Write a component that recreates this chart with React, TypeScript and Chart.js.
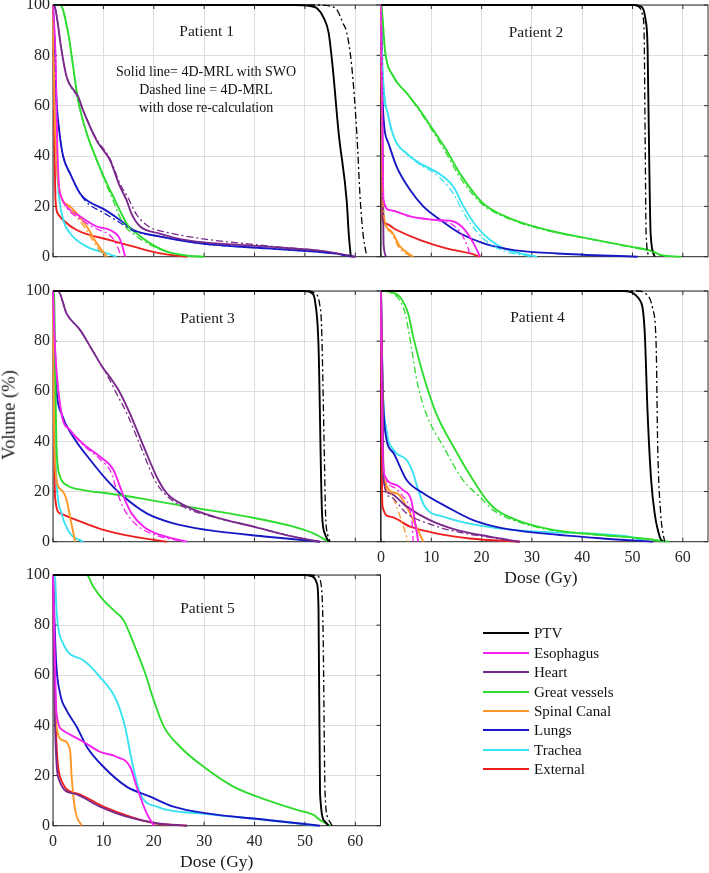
import React, { useEffect, useRef } from 'react';
import { Chart, registerables } from 'chart.js';

Chart.register(...registerables);

type Pt = [number, number];

// ---------- categories / styling keys ----------
const STRUCTURES = ['PTV', 'Esophagus', 'Heart', 'Great vessels', 'Spinal Canal', 'Lungs', 'Trachea', 'External'];
const COLORS = ['#000000', '#f522f0', '#7a2a8c', '#2edc2e', '#ff9626', '#1818c4', '#38e2f2', '#ee1e1e'];

// ---------- axes ----------
const DOSE_MIN = 0;
const DOSE_MAX = 65;
const DOSE_STEP = 10;
const VOL_MIN = 0;
const VOL_MAX = 100;
const VOL_STEP = 20;

// ---------- Patient 1 (dose Gy, volume %) ----------
const P1_PTV: Pt[] = [[0, 100], [48, 100], [51, 99.6], [52.4, 98.7], [53.7, 95], [54.7, 89], [55.5, 75.5], [56.7, 49], [58.3, 22], [58.7, 9], [59.1, 0]];
const P1_ESO: Pt[] = [[0, 100], [0.5, 80], [0.9, 40], [1.2, 28], [1.6, 24], [2.7, 20], [5.4, 16], [8.7, 12], [11.3, 10.6], [13, 8], [13.8, 4], [14.3, 0]];
const P1_HEART: Pt[] = [[0, 100], [0.4, 99], [1.7, 82], [2.7, 71.5], [5, 63.6], [6, 58], [8.7, 46], [11.3, 38.4], [13.3, 27.8], [14.6, 22.5], [15.6, 17], [17.3, 12], [21, 9.3], [26.5, 6.6], [42.5, 4], [54.4, 2], [59, 0.3], [60, 0]];
const P1_GV: Pt[] = [[0, 100], [1.4, 100], [3, 89], [4, 75.5], [5, 62], [6.7, 49], [8.7, 38.4], [10.7, 29], [12.3, 22.5], [13.6, 17], [15, 12], [16.6, 9.3], [19.3, 5.3], [22.6, 2], [27.2, 0.3], [30, 0]];
const P1_SC: Pt[] = [[0, 100], [0.3, 60], [0.8, 35], [1.4, 25], [3.4, 20], [6.7, 12], [8.7, 5.3], [10.7, 0]];
const P1_LUNG: Pt[] = [[0, 100], [0.7, 62], [1.3, 49], [2, 40], [3.4, 33], [5.4, 25], [7, 22], [10, 19], [13.3, 14.6], [16, 10.6], [21.3, 8], [29.2, 5.3], [42.5, 3.3], [55.7, 1.3], [59.7, 0]];
const P1_TRA: Pt[] = [[0, 100], [0.3, 70], [0.7, 40], [1, 28], [2, 15], [3.4, 9.3], [6.7, 4], [10.7, 1.3], [12.6, 0]];
const P1_EXT: Pt[] = [[0, 100], [0.2, 60], [0.5, 22.5], [1, 17], [2, 14.6], [4.7, 10.6], [11.3, 6.6], [16, 4], [21.3, 1.3], [26.6, 0]];
const P1_PTV_D: Pt[] = [[0, 100], [53, 100], [55, 99.5], [56.4, 98], [57.5, 93], [58.3, 89], [59.3, 75.5], [60.3, 49], [61, 22], [61.6, 8], [62.3, 0]];
const P1_ESO_D: Pt[] = [[0, 100], [0.5, 80], [0.9, 40], [1.2, 28], [1.6, 24], [2.7, 19.5], [5.4, 15], [8.7, 11], [10.5, 9.5], [12, 7], [13, 3], [13.5, 0]];
const P1_HEART_D: Pt[] = [[0, 100], [0.4, 99], [1.7, 82], [2.7, 71.5], [5, 63], [6, 58], [8.7, 46.5], [11.3, 39], [13.3, 29], [15, 23], [16.5, 17], [19, 12], [23, 9.5], [29, 7.3], [42.5, 4.3], [54.4, 2], [59, 0.3], [60, 0]];
const P1_GV_D: Pt[] = [[0, 100], [1.4, 100], [3, 89], [4, 75.5], [5, 62], [6.7, 49], [8.7, 38], [10.5, 29], [12, 22], [13, 17], [14.3, 12], [16, 9], [19, 5], [22.6, 2], [27.2, 0.3], [30, 0]];
const P1_SC_D: Pt[] = [[0, 100], [0.3, 60], [0.8, 35], [1.4, 25], [3.2, 19.5], [6.5, 11], [8.5, 4.5], [10.3, 0]];
const P1_LUNG_D: Pt[] = [[0, 100], [0.7, 62], [1.3, 49], [2, 40], [3.4, 33], [5.4, 25], [7, 21], [10, 17.5], [13.3, 13.5], [16, 10.3], [21.3, 8], [29.2, 5.3], [42.5, 3.3], [55.7, 1.3], [59.7, 0]];

// ---------- Patient 2 ----------
const P2_PTV: Pt[] = [[0, 100], [50, 100], [51.5, 99.5], [52.6, 94], [53, 82], [53.3, 40], [53.6, 9], [54.4, 0]];
const P2_ESO: Pt[] = [[0, 100], [0.2, 60], [0.5, 22.5], [1.8, 18.5], [5.8, 16], [11, 14.6], [14.4, 14], [16.7, 10.6], [18.4, 5.3], [19.7, 0]];
const P2_HEART: Pt[] = [[0, 100], [0.3, 50], [0.5, 5], [1.1, 0]];
const P2_GV: Pt[] = [[0, 100], [0.1, 99.5], [0.8, 82], [2.5, 71.5], [5.1, 65], [7.8, 58], [10.4, 50.3], [13, 42.4], [15.7, 33], [19, 24], [21, 20], [26.4, 14.6], [33, 10.6], [41, 7.3], [49.6, 4], [53.6, 2.4], [55.6, 0.7], [59.6, 0]];
const P2_SC: Pt[] = [[0, 100], [0.2, 50], [0.5, 17], [1.8, 10.6], [3.8, 4], [6.4, 0]];
const P2_LUNG: Pt[] = [[0, 100], [0.3, 62], [1.5, 45], [3.1, 35.8], [5.8, 26.5], [8.4, 20], [11.8, 14.6], [15.7, 9.3], [20.4, 5.3], [26.4, 2.6], [35, 1.3], [51, 0]];
const P2_TRA: Pt[] = [[0, 100], [0.3, 75.5], [1.5, 55.6], [2.8, 46.4], [5.1, 41], [7.8, 37], [10.4, 34.4], [12.4, 31.8], [14.4, 27.8], [16.4, 20], [19, 12], [21.7, 6.6], [24.4, 3.3], [27.7, 1.3], [31, 0]];
const P2_EXT: Pt[] = [[0, 100], [0.2, 50], [0.3, 15], [0.8, 13.2], [3.1, 10.6], [7.8, 6.6], [13, 3.3], [17.7, 1.3], [19.7, 0]];
const P2_PTV_D: Pt[] = [[0, 100], [50, 100], [51.4, 99], [52, 96], [52.3, 89], [52.5, 49], [52.7, 9], [53.3, 0]];
const P2_ESO_D: Pt[] = [[0, 100], [0.2, 60], [0.5, 22.5], [1.8, 18.5], [5.8, 16], [11, 14.4], [14, 13], [16, 9], [17.2, 4], [17.8, 0]];
const P2_GV_D: Pt[] = [[0, 100], [0.1, 99.5], [0.8, 82], [2.5, 71.5], [5.1, 65], [7.8, 57.5], [10.4, 49.5], [13, 41], [15.7, 31.5], [19, 23], [21, 19.5], [26.4, 14.3], [33, 10.4], [41, 7.2], [49.6, 3.8], [53.6, 2.2], [55.6, 0.5], [59, 0]];
const P2_SC_D: Pt[] = [[0, 100], [0.2, 50], [0.5, 17], [1.8, 10], [3.6, 3.5], [6, 0]];
const P2_TRA_D: Pt[] = [[0, 100], [0.3, 75.5], [1.5, 55.6], [2.8, 46.4], [5.1, 41], [7.8, 36.5], [10.4, 33.5], [12.4, 30], [14.4, 25], [16.4, 17.5], [19, 10], [21.7, 5], [24.4, 2.3], [27.7, 0.8], [30, 0]];

// ---------- Patient 3 ----------
const P3_PTV: Pt[] = [[0, 100], [50, 100], [51.5, 99], [52, 96], [52.7, 78], [53.4, 11], [54, 3], [54.7, 0]];
const P3_ESO: Pt[] = [[0, 100], [0.4, 77.8], [1.7, 51], [3.4, 44.5], [6, 39], [9.3, 34], [12, 28.6], [13.3, 22], [14.3, 16.6], [15.6, 11.3], [18, 6], [21.3, 2.7], [26.6, 0]];
const P3_HEART: Pt[] = [[0, 100], [1, 100], [2.7, 91], [5.4, 84.4], [7.4, 77.8], [9.7, 70], [11.7, 64.5], [13, 60.5], [15.3, 51], [18, 37.9], [20.9, 24.6], [22.6, 19.3], [26.6, 14], [31.9, 10], [39.8, 6], [47.7, 2], [53, 0]];
const P3_GV: Pt[] = [[0, 100], [0.2, 99], [0.7, 37.9], [1.4, 26], [2.7, 22.6], [6, 20.6], [10.7, 19.3], [17.3, 17.3], [26.6, 14], [38.5, 10], [47.7, 6], [51.7, 3.3], [54.7, 0]];
const P3_SC: Pt[] = [[0, 100], [0.2, 50], [0.7, 24.6], [1.7, 20.6], [2.7, 16.6], [3.5, 8.6], [4.4, 0]];
const P3_LUNG: Pt[] = [[0, 100], [0.3, 77.8], [0.7, 60.5], [1.7, 51], [4, 41.9], [7.4, 32.6], [10.7, 24.6], [14, 18], [18.6, 11.3], [23.9, 7.3], [30.5, 4.7], [42.5, 2], [53, 0]];
const P3_TRA: Pt[] = [[0, 100], [0.2, 60], [0.7, 24.6], [1.7, 11.3], [3.4, 3.3], [6, 0]];
const P3_EXT: Pt[] = [[0, 100], [0.2, 50], [0.4, 18], [1.4, 11.3], [4.7, 8.6], [10, 4.7], [16, 2], [22.6, 0]];
const P3_PTV_D: Pt[] = [[0, 100], [50.5, 100], [52, 99], [52.9, 95], [53.3, 86], [53.8, 40], [54.1, 11], [54.5, 3], [55, 0]];
const P3_ESO_D: Pt[] = [[0, 100], [0.4, 77.8], [1.7, 51], [3.4, 44.5], [6, 38.5], [9.3, 33], [11.7, 27], [12.4, 22], [13.3, 16.6], [14.6, 11.3], [17, 6], [20.5, 2.5], [26, 0]];
const P3_HEART_D: Pt[] = [[0, 100], [1, 100], [2.7, 91], [5.4, 84.4], [7.4, 77.8], [9.7, 70], [11.4, 64], [12.5, 59.5], [14.7, 51], [17.4, 38], [20.2, 24.6], [22.2, 19], [26.2, 13.6], [31.9, 9.8], [39.8, 6], [47.7, 2], [53, 0]];

// ---------- Patient 4 ----------
const P4_PTV: Pt[] = [[0, 100], [48, 100], [51.4, 96.5], [52.4, 84.4], [53, 51], [53.7, 24.6], [54.4, 11.3], [55.4, 2], [56, 0]];
const P4_ESO: Pt[] = [[0, 100], [0.3, 38], [0.8, 26], [3.1, 22.6], [4.4, 20.6], [6, 16.6], [6.7, 8.6], [7.4, 0]];
const P4_HEART: Pt[] = [[0, 100], [0.3, 60], [0.5, 24.6], [1.8, 19.3], [5.1, 14], [9.7, 8.6], [15, 4.7], [21.6, 2], [27.6, 0]];
const P4_GV: Pt[] = [[0, 100], [1.8, 99.7], [3.8, 97.5], [5.4, 91], [6.4, 81.8], [8.7, 64.5], [11, 51], [14.4, 37.9], [18.3, 24.6], [21, 16.6], [23, 12.6], [27, 8.6], [34.2, 4.7], [44, 2.7], [52, 1.3], [57.3, 0]];
const P4_SC: Pt[] = [[0, 100], [0.3, 60], [0.5, 26], [3.1, 19.3], [5.1, 14], [6.4, 8.6], [8.4, 0]];
const P4_LUNG: Pt[] = [[0, 100], [0.3, 64.5], [0.8, 44.5], [2.5, 35.3], [5.1, 24.6], [8.4, 19.3], [13, 14], [18.3, 8.6], [24.3, 5.3], [32.2, 3.3], [44, 1.3], [54, 0]];
const P4_TRA: Pt[] = [[0, 100], [0.3, 64.5], [1.1, 44.5], [2.5, 36.6], [5.1, 32.6], [6.4, 27.3], [7.4, 20.6], [8.7, 14], [12.4, 10], [21, 6], [31, 4], [49.4, 2], [52.7, 0]];
const P4_EXT: Pt[] = [[0, 100], [0.1, 50], [0.3, 14], [1.8, 10], [5.8, 6], [11, 3.3], [17.7, 1.3], [27.6, 0]];
const P4_PTV_D: Pt[] = [[0, 100], [51, 100], [52.6, 99], [54, 93], [54.7, 78], [55, 38], [55.6, 11], [56, 4], [56.4, 0]];
const P4_ESO_D: Pt[] = [[0, 100], [0.3, 38], [0.8, 26], [3.1, 21], [4.4, 18], [5.6, 14], [6.2, 7], [6.4, 0]];
const P4_HEART_D: Pt[] = [[0, 100], [0.3, 60], [0.5, 24.6], [1.8, 18], [5.1, 11.3], [9.7, 7], [15, 4], [21.6, 1.7], [27, 0]];
const P4_GV_D: Pt[] = [[0, 100], [1.8, 99.5], [3.8, 96], [4.8, 91], [6, 78], [7.1, 64.5], [9, 51], [12.4, 37.9], [16.3, 24.6], [19.6, 18], [22.3, 12.6], [26.3, 8.6], [33.5, 4.7], [44, 2.5], [52, 1.2], [56, 0]];
const P4_SC_D: Pt[] = [[0, 100], [0.3, 60], [0.5, 26], [2, 19], [3.1, 14], [4.3, 7], [5.4, 0]];

// ---------- Patient 5 ----------
const P5_PTV: Pt[] = [[0, 100], [50, 100], [51.4, 99.5], [52.4, 96.5], [52.7, 86], [53, 12.9], [54, 1.6], [54.7, 0]];
const P5_ESO: Pt[] = [[0, 100], [0.3, 73], [0.7, 44.8], [2, 38], [6, 33.5], [9.3, 29.5], [12.6, 27.5], [15.3, 23.5], [16.6, 15.6], [18.6, 4.9], [20, 0]];
const P5_HEART: Pt[] = [[0, 100], [0.2, 60], [1, 19.5], [4, 12.9], [9.3, 7.6], [14.6, 3.6], [20.6, 1], [26.6, 0]];
const P5_GV: Pt[] = [[0, 100], [6.7, 100], [8, 95.3], [10, 90], [12, 86], [14, 82], [16, 72.7], [18.3, 60.8], [20, 50], [22, 39.5], [25.2, 31.5], [29.9, 23.5], [35.8, 15.6], [42.5, 10.2], [48.4, 6.3], [51.7, 4.3], [53, 2.3], [55, 0]];
const P5_SC: Pt[] = [[0, 100], [0.2, 66], [0.7, 39.5], [2, 34], [3.4, 30], [3.7, 19.5], [4.4, 6.3], [5.7, 0]];
const P5_LUNG: Pt[] = [[0, 100], [0.6, 66], [1.4, 52.8], [2.7, 46], [4.7, 39.5], [6.7, 31.5], [10, 23.5], [14.6, 15.6], [19.3, 11.6], [23.9, 7.6], [30.5, 4.9], [42.5, 2.3], [53, 0]];
const P5_TRA: Pt[] = [[0, 100], [0.4, 99], [0.7, 86], [2, 72.7], [6, 66], [9.3, 59.4], [12.6, 50], [14.3, 39.5], [15.6, 26.3], [17.3, 12.9], [20.6, 7.6], [29.2, 4.9], [42.5, 2.3], [52.4, 0]];
const P5_EXT: Pt[] = [[0, 100], [0.4, 50], [1.4, 19.5], [4.7, 12.9], [10, 7.6], [15.3, 3.6], [20, 1], [26.6, 0]];
const P5_PTV_D: Pt[] = [[0, 100], [51, 100], [52.5, 99.5], [53.3, 95], [53.6, 78], [54, 12.9], [54.6, 3], [55.4, 0]];

// ---------- per-panel series tables (same order as STRUCTURES) ----------
const PATIENT_TITLES = ['Patient 1', 'Patient 2', 'Patient 3', 'Patient 4', 'Patient 5'];
const SOLID = [
  [P1_PTV, P1_ESO, P1_HEART, P1_GV, P1_SC, P1_LUNG, P1_TRA, P1_EXT],
  [P2_PTV, P2_ESO, P2_HEART, P2_GV, P2_SC, P2_LUNG, P2_TRA, P2_EXT],
  [P3_PTV, P3_ESO, P3_HEART, P3_GV, P3_SC, P3_LUNG, P3_TRA, P3_EXT],
  [P4_PTV, P4_ESO, P4_HEART, P4_GV, P4_SC, P4_LUNG, P4_TRA, P4_EXT],
  [P5_PTV, P5_ESO, P5_HEART, P5_GV, P5_SC, P5_LUNG, P5_TRA, P5_EXT],
];
const DASHED: (Pt[] | null)[][] = [
  [P1_PTV_D, P1_ESO_D, P1_HEART_D, P1_GV_D, P1_SC_D, P1_LUNG_D, null, null],
  [P2_PTV_D, P2_ESO_D, null, P2_GV_D, P2_SC_D, null, P2_TRA_D, null],
  [P3_PTV_D, P3_ESO_D, P3_HEART_D, null, null, null, null, null],
  [P4_PTV_D, P4_ESO_D, P4_HEART_D, P4_GV_D, P4_SC_D, null, null, null],
  [P5_PTV_D, null, null, null, null, null, null, null],
];

const ANNOTATION = ['Solid line= 4D-MRL with SWO', 'Dashed line = 4D-MRL', 'with dose re-calculation'];

// ---------- layout (pixels) ----------
const PAGE_W = 709;
const PAGE_H = 873;
const FONT = "'Liberation Serif', 'Times New Roman', serif";
// plot-area rectangles [left, top, right, bottom]
const RECTS = [
  [53, 5, 380.5, 256.7],
  [381, 5, 708, 256.7],
  [53, 291, 380.5, 541.7],
  [381, 291, 708, 541.7],
  [53, 575, 380.5, 825.7],
];
const SHOW_Y = [true, false, true, false, true];
const SHOW_X = [false, false, false, true, true];
const TITLE_POS = [[206.7, 31], [536, 31.7], [207.5, 317.7], [537.5, 316.7], [207.5, 607.7]];
const Y_AXIS_W = 40;
const X_AXIS_H = 40;
const TOP_PAD = 20;
const CANVAS_H = 322;

const boxPlugin = {
  id: 'matlabBox',
  beforeDatasetsDraw(chart: any) {
    const { ctx, chartArea } = chart;
    const { left, top, right, bottom } = chartArea;
    ctx.save();
    ctx.strokeStyle = '#2a2a2a';
    ctx.lineWidth = 1;
    ctx.strokeRect(left, top, right - left, bottom - top);
    const xs = chart.scales.x;
    const ys = chart.scales.y;
    ctx.beginPath();
    xs.ticks.forEach((t: any) => {
      const px = xs.getPixelForValue(t.value);
      ctx.moveTo(px, bottom);
      ctx.lineTo(px, bottom - 4);
      ctx.moveTo(px, top);
      ctx.lineTo(px, top + 4);
    });
    ys.ticks.forEach((t: any) => {
      const py = ys.getPixelForValue(t.value);
      ctx.moveTo(left, py);
      ctx.lineTo(left + 4, py);
      ctx.moveTo(right, py);
      ctx.lineTo(right - 4, py);
    });
    ctx.stroke();
    ctx.restore();
  },
};

function Panel({ idx }: { idx: number }) {
  const ref = useRef<HTMLCanvasElement | null>(null);
  const [L, T, R, B] = RECTS[idx];
  const canvasTop = T - TOP_PAD;

  useEffect(() => {
    if (!ref.current) return;
    const datasets: any[] = [];
    DASHED[idx].forEach((pts, i) => {
      if (!pts) return;
      datasets.push({
        label: STRUCTURES[i] + ' (re-calc)',
        data: pts.map(([x, y]) => ({ x, y })),
        borderColor: COLORS[i],
        borderWidth: 1.3,
        borderDash: [7, 3, 2, 3],
        pointRadius: 0,
        fill: false,
        clip: 2,
        cubicInterpolationMode: 'monotone',
      });
    });
    SOLID[idx].forEach((pts, i) => {
      datasets.push({
        label: STRUCTURES[i],
        data: pts.map(([x, y]) => ({ x, y })),
        borderColor: COLORS[i],
        borderWidth: 1.9,
        pointRadius: 0,
        fill: false,
        clip: 2,
        cubicInterpolationMode: 'monotone',
      });
    });
    const tickFont = { family: FONT, size: 16 };
    const chart = new Chart(ref.current, {
      type: 'line',
      data: { datasets },
      plugins: [boxPlugin],
      options: {
        animation: false,
        responsive: false,
        devicePixelRatio: 1,
        events: [],
        layout: {
          padding: {
            left: L - Y_AXIS_W,
            top: TOP_PAD,
            right: PAGE_W - R,
            bottom: CANVAS_H - TOP_PAD - (B - T) - X_AXIS_H,
          },
        },
        plugins: { legend: { display: false }, tooltip: { enabled: false } },
        scales: {
          x: {
            type: 'linear',
            min: DOSE_MIN,
            max: DOSE_MAX,
            ticks: {
              stepSize: DOSE_STEP,
              includeBounds: false,
              display: SHOW_X[idx],
              padding: 6,
              font: tickFont,
              color: '#262626',
              maxRotation: 0,
              autoSkip: false,
            },
            grid: { color: '#dedede', lineWidth: 1, drawTicks: false },
            border: { display: false },
            afterFit: (s: any) => { s.height = X_AXIS_H; },
          },
          y: {
            type: 'linear',
            min: VOL_MIN,
            max: VOL_MAX,
            ticks: {
              stepSize: VOL_STEP,
              display: SHOW_Y[idx],
              padding: 3,
              font: tickFont,
              color: '#262626',
            },
            grid: { color: '#dedede', lineWidth: 1, drawTicks: false },
            border: { display: false },
            afterFit: (s: any) => { s.width = Y_AXIS_W; },
          },
        },
      } as any,
    });
    return () => chart.destroy();
  }, [idx]);

  return (
    <canvas
      ref={ref}
      width={PAGE_W}
      height={CANVAS_H}
      style={{ position: 'absolute', left: 0, top: canvasTop, width: PAGE_W, height: CANVAS_H }}
    />
  );
}

const centered = (x: number, y: number, size: number, extra: any = {}) => ({
  position: 'absolute' as const,
  left: x,
  top: y,
  transform: 'translate(-50%, -50%)',
  fontFamily: FONT,
  fontSize: size,
  lineHeight: 1,
  whiteSpace: 'nowrap' as const,
  color: '#1a1a1a',
  ...extra,
});

const LEGEND_X0 = 483;
const LEGEND_X1 = 529;
const LEGEND_TEXT_X = 534;
const LEGEND_Y0 = 633.3;
const LEGEND_DY = 19.43;

export default function App() {
  useEffect(() => {
    document.body.style.margin = '0';
  }, []);
  return (
    <div style={{ position: 'absolute', left: 0, top: 0, width: PAGE_W, height: PAGE_H, background: '#fff', overflow: 'hidden' }}>
      {RECTS.map((_, i) => (
        <Panel key={i} idx={i} />
      ))}
      {PATIENT_TITLES.map((t, i) => (
        <div key={t} style={centered(TITLE_POS[i][0], TITLE_POS[i][1], 15.5)}>{t}</div>
      ))}
      <div
        style={{
          position: 'absolute',
          left: 206,
          top: 62.5,
          transform: 'translateX(-50%)',
          fontFamily: FONT,
          fontSize: 14,
          lineHeight: '18.3px',
          textAlign: 'center',
          whiteSpace: 'nowrap',
          color: '#111',
        }}
      >
        {ANNOTATION.map((l) => (
          <div key={l}>{l}</div>
        ))}
      </div>
      <div style={centered(9, 415, 18.5, { transform: 'translate(-50%, -50%) rotate(-90deg)' })}>Volume (%)</div>
      <div style={centered(541, 577.5, 17.5)}>Dose (Gy)</div>
      <div style={centered(216.7, 861.5, 17.5)}>Dose (Gy)</div>
      {STRUCTURES.map((s, i) => (
        <React.Fragment key={s}>
          <div
            style={{
              position: 'absolute',
              left: LEGEND_X0,
              top: LEGEND_Y0 + i * LEGEND_DY - 1,
              width: LEGEND_X1 - LEGEND_X0,
              height: 2,
              background: COLORS[i],
            }}
          />
          <div
            style={{
              position: 'absolute',
              left: LEGEND_TEXT_X,
              top: LEGEND_Y0 + i * LEGEND_DY,
              transform: 'translateY(-50%)',
              fontFamily: FONT,
              fontSize: 15,
              lineHeight: 1,
              whiteSpace: 'nowrap',
              color: '#111',
            }}
          >
            {s}
          </div>
        </React.Fragment>
      ))}
    </div>
  );
}
